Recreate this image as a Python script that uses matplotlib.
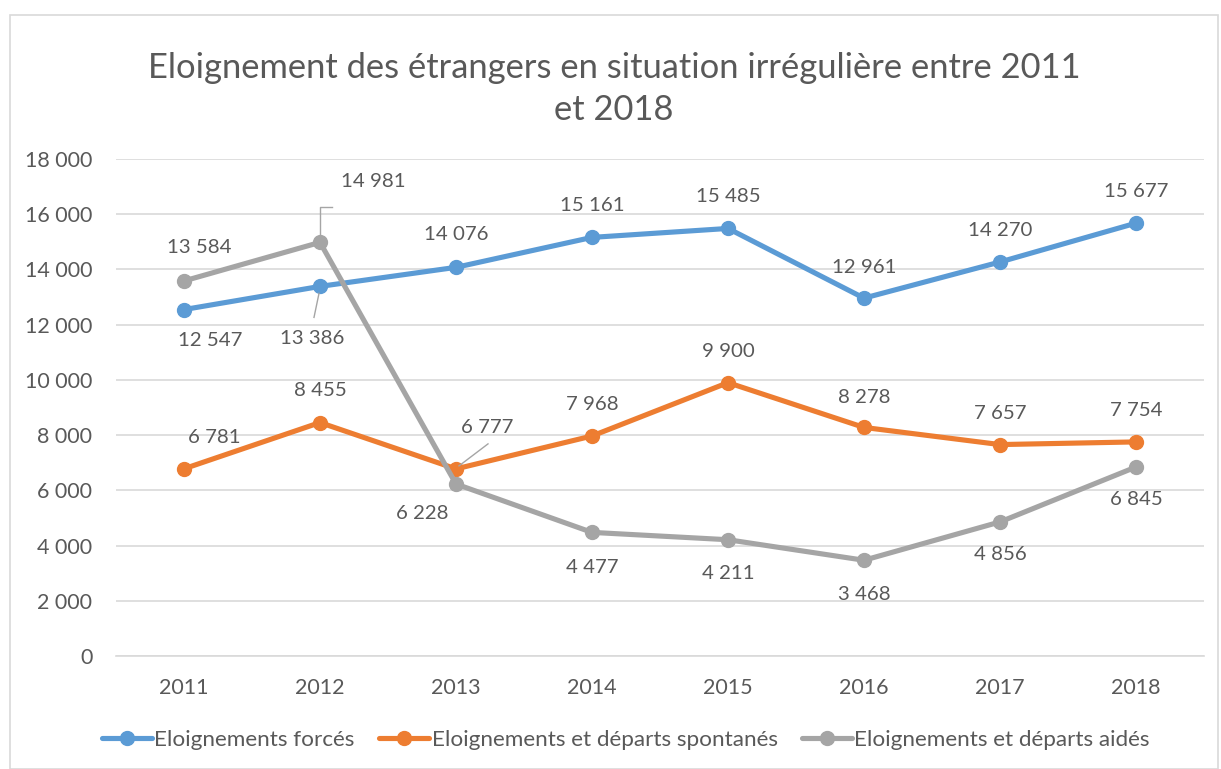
import matplotlib
matplotlib.use("Agg")
import matplotlib.pyplot as plt
from matplotlib.patches import Rectangle

plt.rcParams['font.family'] = ['Lato', 'DejaVu Sans']

years = ["2011", "2012", "2013", "2014", "2015", "2016", "2017", "2018"]
forces = [12547, 13386, 14076, 15161, 15485, 12961, 14270, 15677]
spontanes = [6781, 8455, 6777, 7968, 9900, 8278, 7657, 7754]
aides = [13584, 14981, 6228, 4477, 4211, 3468, 4856, 6845]

series_names = ["Eloignements forcés", "Eloignements et départs spontanés",
                "Eloignements et départs aidés"]
colors = ["#5B9BD5", "#ED7D31", "#A5A5A5"]

# label offsets in pixels (dx, dy)
off_forces = [(26, -31), (-8, -52), (0, 33), (0, 32), (0, 32), (0, 31), (0, 31), (0, 32)]
off_spont = [(30, 31), (0, 32), (31, 41), (0, 31), (0, 31), (0, 30), (0, 31), (0, 31)]
off_aides = [(15, 33), (53, 61), (-34, -29), (0, -35), (0, -34), (0, -34), (0, -33), (0, -32)]

TXT = "#595959"
FS = 14.7
fig = plt.figure(figsize=(12.21, 7.69), dpi=100)
fig.patches.append(Rectangle((10 / 1221, 0.0), 1208 / 1221, 1 - 15 / 769, transform=fig.transFigure,
                             fill=False, edgecolor="#D9D9D9", linewidth=1.2))
ax = fig.add_axes([116 / 1221, 1 - 656 / 769, (1204 - 116) / 1221, (656 - 159) / 769])

x = list(range(len(years)))
for vals, col, name, offs in [(forces, colors[0], series_names[0], off_forces),
                              (spontanes, colors[1], series_names[1], off_spont),
                              (aides, colors[2], series_names[2], off_aides)]:
    ax.plot(x, vals, color=col, lw=3.7, marker="o", markersize=10, label=name,
            solid_capstyle="round", zorder=3)
    for xi, v, (dx, dy) in zip(x, vals, offs):
        ax.annotate(f"{v:,}".replace(",", " "), (xi, v), xytext=(dx, dy),
                    textcoords="offset pixels", ha="center", va="center",
                    fontsize=FS, color=TXT, zorder=5)

ax.set_xlim(-0.5, len(years) - 0.5)
ax.set_ylim(0, 18000)
fig.canvas.draw()


def leader(xi, v, pts):
    px, py = ax.transData.transform((xi, v))
    inv = ax.transData.inverted()
    coords = [inv.transform((px + a, py + b)) for a, b in pts]
    ax.plot([c[0] for c in coords], [c[1] for c in coords], color="#A5A5A5", lw=1.0, zorder=4)


leader(1, aides[1], [(0, 6), (0, 35), (12, 35)])
leader(1, forces[1], [(-1, -7), (-6, -31)])
leader(2, spontanes[2], [(3, 3), (32, 25)])

ax.set_yticks(range(0, 18001, 2000))
ax.set_yticklabels([f"{t:,}".replace(",", " ") for t in range(0, 18001, 2000)])
ax.set_xticks(x)
ax.set_xticklabels(years)
ax.tick_params(axis="both", length=0, labelsize=15.5, labelcolor=TXT)
ax.tick_params(axis="x", pad=16)
ax.tick_params(axis="y", pad=17)
ax.grid(axis="y", color="#D9D9D9", lw=1.2, zorder=0)
for s in ["top", "right", "left"]:
    ax.spines[s].set_visible(False)
ax.spines["bottom"].set_color("#D9D9D9")
ax.spines["bottom"].set_linewidth(1.2)
ax.set_axisbelow(True)

fig.text(614 / 1221, 1 - 68 / 769, "Eloignement des étrangers en situation irrégulière entre 2011",
         ha="center", va="center", fontsize=24.8, color=TXT)
fig.text(614 / 1221, 1 - 110 / 769, "et 2018", ha="center", va="center", fontsize=24.8, color=TXT)

leg = fig.legend(loc="center", bbox_to_anchor=(626 / 1221, 1 - 740 / 769), ncol=3, frameon=False,
                 fontsize=16.2, handlelength=2.2, handletextpad=0.12, columnspacing=1.1)
for t in leg.get_texts():
    t.set_color(TXT)

fig.savefig("out.png", dpi=100)
